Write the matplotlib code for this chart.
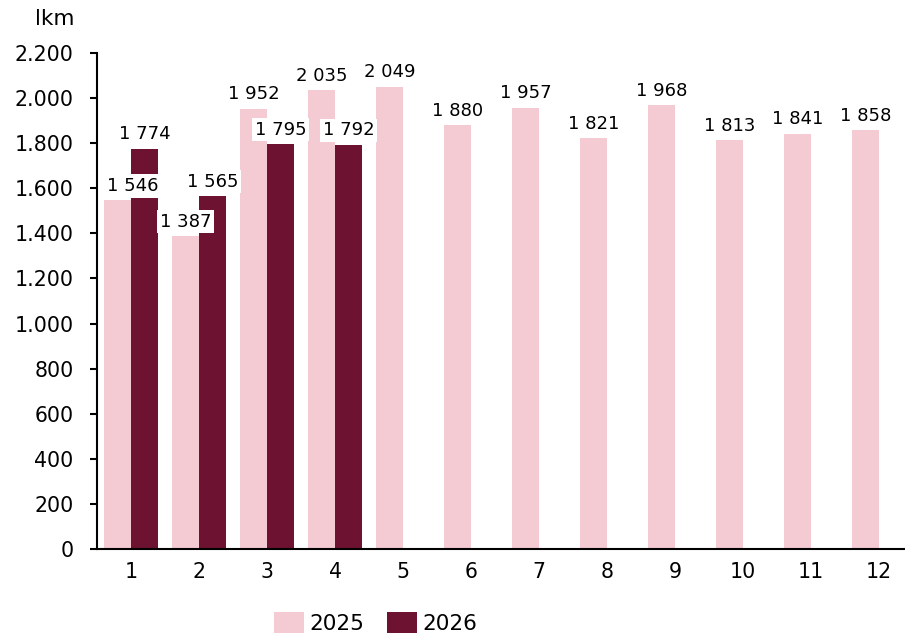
import matplotlib
matplotlib.use("Agg")
import matplotlib.pyplot as plt
from matplotlib.ticker import FuncFormatter, MultipleLocator
import numpy as np

months = ["1", "2", "3", "4", "5", "6", "7", "8", "9", "10", "11", "12"]
values_2025 = [1546, 1387, 1952, 2035, 2049, 1880, 1957, 1821, 1968, 1813, 1841, 1858]
values_2026 = [1774, 1565, 1795, 1792]
series_names = ["2025", "2026"]
unit_label = "lkm"

col_2025 = "#F4CAD3"
col_2026 = "#6D1230"

plt.rcParams["font.family"] = ["DejaVu Sans"]

W, H = 905, 636
fig = plt.figure(figsize=(W / 100, H / 100), dpi=100)
ax = fig.add_axes([97 / W, (636 - 549) / H, (905 - 97) / W, (549 - 53) / H])

x = np.arange(1, len(months) + 1)
bw = 0.4
b1 = ax.bar(x - bw / 2, values_2025, width=bw, color=col_2025, label=series_names[0], zorder=2)
x2 = x[: len(values_2026)]
b2 = ax.bar(x2 + bw / 2, values_2026, width=bw, color=col_2026, label=series_names[1], zorder=2)

def fmt_label(v):
    return f"{v:,}".replace(",", " ")

label_font = 13
for i, (xi, v) in enumerate(zip(x - bw / 2, values_2025)):
    dx = 11 if i == 0 else 0
    ax.annotate(fmt_label(v), (xi, v), xytext=(dx, 4), textcoords="offset points",
                ha="center", va="bottom", fontsize=label_font, zorder=5,
                bbox=dict(boxstyle="square,pad=0.15", fc="white", ec="none"))
for xi, v in zip(x2 + bw / 2, values_2026):
    ax.annotate(fmt_label(v), (xi, v), xytext=(0, 4), textcoords="offset points",
                ha="center", va="bottom", fontsize=label_font, zorder=5,
                bbox=dict(boxstyle="square,pad=0.15", fc="white", ec="none"))

ax.set_xlim(0.5, 0.5 + (905 - 97) / 68)
ax.set_ylim(0, 2200)
ax.yaxis.set_major_locator(MultipleLocator(200))
ax.yaxis.set_major_formatter(FuncFormatter(lambda v, p: f"{int(v):,}".replace(",", ".")))
ax.set_xticks(x)
ax.set_xticklabels(months)

for s in ["top", "right"]:
    ax.spines[s].set_visible(False)
for s in ["left", "bottom"]:
    ax.spines[s].set_linewidth(1.5)
    ax.spines[s].set_color("black")

ax.tick_params(axis="y", direction="out", length=5, width=1.5, pad=12, labelsize=14.8)
ax.tick_params(axis="x", length=0, pad=9, labelsize=14.8)

fig.text(35 / W, 1 - 25 / H, unit_label, fontsize=15.5, va="baseline", ha="left")

fig.legend(handles=[b1, b2], labels=series_names, loc="center",
           bbox_to_anchor=(376 / W, 1 - 623 / H), ncol=2, frameon=False,
           fontsize=15.5, handlelength=1.4, handleheight=1.07,
           handletextpad=0.25, columnspacing=1.05)

fig.savefig("out.png", dpi=100)
